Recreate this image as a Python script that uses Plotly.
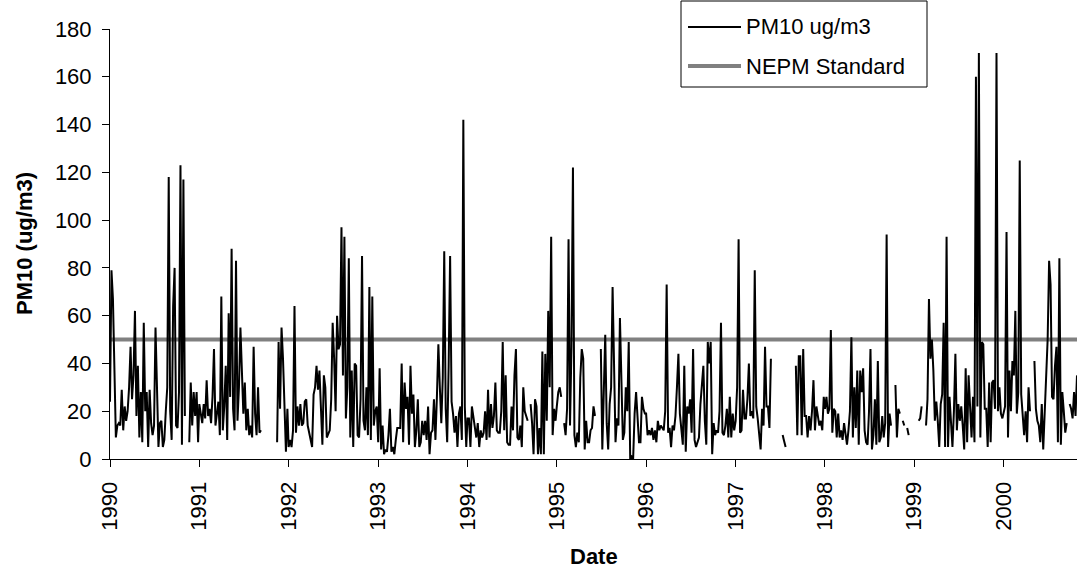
import datetime as dt
import plotly.graph_objects as go

# PM10 24-hour samples (every 6th day), ug/m3; None = no sample
pm10_1990 = [24, 79, 67, 33, 9, 14, 15, 14, 29, 12, 22, 16, 20, 30, 47, 25, 35, 62, 18, 39,
             9, 28, 7, 57, 20, 28, 5, 29, 15, 10, 14, 55, 30, 5, 15, 16, 5, 8, 20, 30,
             118, 20, 8, 64, 80, 14, 13, 28, 123, 6, 117, 18, None, None, 7, 32, 14, 28, 18, 28, 7]
pm10_1991 = [23, 19, 15, 23, 17, 33, 18, 21, 15, 26, 46, 14, 20, 24, 10, 68, 12, 22, 39, 8,
             61, 26, 88, 21, 12, 83, 16, 30, 55, 36, 19, 32, 12, 21, 10, 14, 9, 47, 19, 10,
             30, 11, 12, None, None, None, None, None, None, None, None, None, None,
             7, 49, 21, 55, 42, 17, 3, 21]
pm10_1992 = [5, 8, 5, 12, 64, 11, 22, 14, 23, 14, 15, 24, 25, 14, 11, 9, 5, 27, 30, 39, 29,
             37, 22, 6, 35, 30, 9, 11, 12, 25, 57, 42, 20, 60, 46, 48, 97, 35, 93, 17, 30,
             84, 9, 37, 5, 40, 39, 10, 9, 25, 85, 16, 12, 30, 10, 72, 8, 68, 14, 20, 22]
pm10_1993 = [7, 38, 4, 14, 2, 4, 3, 10, 21, 3, 5, 2, 8, 13, 13, 13, 40, 7, 32, 21, 26, 6,
             39, 19, 27, 5, 12, 25, 5, 7, 16, 10, 16, 8, 22, 2, 11, 12, 25, 8, 26, 48,
             30, 15, 34, 87, 21, 7, 39, 85, 24, 19, 11, 18, 5, 19, 22, 8, 142, 22, 5]
pm10_1994 = [17, 17, 5, 22, 17, 14, 9, 15, 5, 12, 9, 11, 20, 8, 29, 9, 23, 13, 18, 32,
             12, 11, 11, 20, 49, 12, 35, 7, 6, 6, 22, 12, 35, 46, 9, 8, 14, 5, 30, 20,
             18, 16, None, 23, 15, 2, 25, 22, 2, 13, 2, 45, 2, 44, 16, 62, 30, 93, 10, 21, 16]
pm10_1995 = [22, 28, 30, 26, None, 15, 10, 21, 92, 14, 47, 122, 10, 5, 11, 7, 34, 46, 42, 4,
             16, 7, 7, 12, 13, 22, 18, None, None, None, 46, 4, 28, 52, 15, 4, 23, 30, 72, 44,
             7, 17, 14, 59, 30, 8, 11, 30, 20, 49, 0, 1, 0, 19, 28, 14, 7, 7, 26, 21, 19]
pm10_1996 = [19, 10, 12, 10, 13, 8, 12, 7, 16, 12, 14, 13, 12, 20, 73, 11, 13, 5, 14, 12,
             18, 30, 44, 19, 13, 6, 39, 3, 22, 19, 25, 11, 46, 8, 5, 7, 9, 23, 30, 39,
             16, 6, 49, 40, 49, 2, 15, 10, 12, 11, 20, 57, 11, 10, 14, 21, 9, 26, 9, 19, 12]
pm10_1997 = [16, 30, 92, 11, 12, 29, 17, 17, 25, 40, 18, 20, 17, 79, 22, 17, 11, 4, 21, 14,
             47, 22, 22, 13, 42, None, None, None, None, None, None, None, 10, 8, 5,
             None, None, None, None, None, None,
             39, 10, 43, 43, 10, 46, 18, 18, 9, 18, 12, 20, 33, 12, 22, 18, 14, 16, 12, 26]
pm10_1998 = [21, 26, 19, 21, 54, 11, 21, 20, 9, 19, 9, 12, 8, 15, 10, 6, 12, 20, 51, 9,
             30, 13, 37, 6, 37, 28, 38, 12, 7, 6, 20, 46, 4, 10, 25, 6, 41, 7, 9, 18,
             9, 15, 94, 5, 19, 14, None, None, 31, 9, 21, 19, None, 16, 14, None, 13, 10,
             None, None, None]
pm10_1999 = [None, None, None, 16, 17, 22, None, None, 14, 25, 67, 42, 50, 37, 16, 24, 16, 5, 23, 27,
             57, 5, 93, 5, 26, 12, 5, 20, 44, 12, 23, 16, 22, 14, 4, 38, 7, 35, 19, 9,
             26, 7, 160, 22, 170, 9, 49, 48, 21, 21, 5, 32, 7, 32, 33, 21, 170, 20, 30, 19, 17]
pm10_2000 = [19, 22, 95, 9, 37, 20, 41, 35, 62, 19, 28, 125, 27, 17, 10, 20, 7, 30, 20, None,
             None, 41, 21, 16, 14, 7, 23, 4, 20, 28, 50, 83, 73, 26, 25, 39, 47, 7, 84, 6,
             28, 20, 11, 15, None, 23, 21, 17, 28, 18, 35]

nepm_standard = 50
sample_interval_days = 6
series_names = ["PM10 ug/m3", "NEPM Standard"]

yearly = {1990: pm10_1990, 1991: pm10_1991, 1992: pm10_1992, 1993: pm10_1993,
          1994: pm10_1994, 1995: pm10_1995, 1996: pm10_1996, 1997: pm10_1997,
          1998: pm10_1998, 1999: pm10_1999, 2000: pm10_2000}

dates, values = [], []
for year, vals in yearly.items():
    start = dt.date(year, 1, 1)
    for k, v in enumerate(vals):
        dates.append(start + dt.timedelta(days=sample_interval_days * k))
        values.append(v)

x_start, x_end = dates[0], dates[-1]
FONT = "Liberation Sans, Arial, sans-serif"
FS = 22

# ---- geometry (pixels) ----
W, H = 1077, 574
ML, MR, MT, MB = 110, 0, 29, 115
PW, PH = W - ML - MR, H - MT - MB


def px(xp):
    return (xp - ML) / PW


def py(yp):
    return (H - MB - yp) / PH


fig = go.Figure()
fig.add_trace(go.Scatter(
    x=[x_start, x_end], y=[nepm_standard, nepm_standard], mode="lines",
    line=dict(color="#808080", width=4), name=series_names[1], showlegend=False))
fig.add_trace(go.Scatter(
    x=dates, y=values, mode="lines", connectgaps=False,
    line=dict(color="black", width=2), name=series_names[0], showlegend=False))

# legend drawn as box + sample lines + text
shapes = [
    dict(type="rect", xref="paper", yref="paper", x0=px(681), x1=px(927), y0=py(87), y1=py(1),
         line=dict(color="black", width=1), fillcolor="white", layer="above"),
    dict(type="line", xref="paper", yref="paper", x0=px(688), x1=px(741), y0=py(27), y1=py(27),
         line=dict(color="black", width=2), layer="above"),
    dict(type="line", xref="paper", yref="paper", x0=px(688), x1=px(741), y0=py(66), y1=py(66),
         line=dict(color="#808080", width=4), layer="above"),
]
annotations = [
    dict(text=series_names[0], xref="paper", yref="paper", x=px(744), y=py(27),
         xanchor="left", yanchor="middle", showarrow=False, font=dict(size=FS)),
    dict(text=series_names[1], xref="paper", yref="paper", x=px(744), y=py(66),
         xanchor="left", yanchor="middle", showarrow=False, font=dict(size=FS)),
    dict(text="<b>Date</b>", xref="paper", yref="paper", x=0.5, y=py(556),
         xanchor="center", yanchor="middle", showarrow=False, font=dict(size=FS)),
    dict(text="<b>PM10 (ug/m3)</b>", xref="paper", yref="paper", x=px(24), y=0.5,
         xanchor="center", yanchor="middle", textangle=-90, showarrow=False,
         font=dict(size=FS)),
]

fig.update_layout(
    width=W, height=H,
    margin=dict(l=ML, r=MR, t=MT, b=MB),
    paper_bgcolor="white", plot_bgcolor="white",
    font=dict(family=FONT, size=FS, color="black"),
    showlegend=False, shapes=shapes, annotations=annotations,
)
fig.update_xaxes(
    type="date", range=[x_start, x_end], tick0="1990-01-01", dtick="M12",
    tickformat="%Y", tickangle=-90, ticks="outside", ticklen=7, tickcolor="black",
    ticklabelstandoff=6,
    showline=True, linecolor="black", linewidth=1, showgrid=False, zeroline=False,
    automargin=False)
fig.update_yaxes(
    range=[0, 180], dtick=20, ticks="outside", ticklen=7, tickcolor="black",
    ticklabelstandoff=6,
    showline=True, linecolor="black", linewidth=1, showgrid=False, zeroline=False,
    automargin=False)

fig.write_html("out.html")
